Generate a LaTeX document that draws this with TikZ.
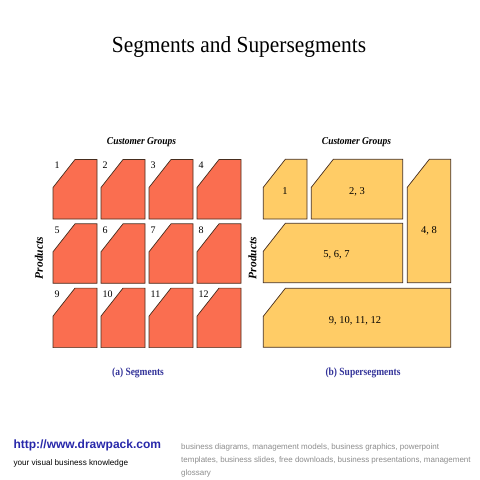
\documentclass[tikz,border=0pt]{standalone}
\usepackage{fontspec}
\setmainfont{Liberation Serif}
\newfontfamily\arialf{Liberation Sans}
\definecolor{segfill}{RGB}{250,110,80}
\definecolor{supfill}{RGB}{255,204,102}
\definecolor{edgecol}{RGB}{70,45,30}
\definecolor{capblue}{RGB}{51,51,153}
\definecolor{urlblue}{RGB}{40,40,170}
\definecolor{footgray}{RGB}{140,140,140}
\newcommand\chambox[5]{% fill, x1,y1,x2,y2
  \draw[boxline,fill=#1] (#2+22,#3) -- (#4,#3) -- (#4,#5) -- (#2,#5) -- (#2,#3+28) -- cycle;}
\newcommand\cnd[3]{\scalebox{#1}[1]{\fontsize{#2}{#2}\selectfont #3}}
\begin{document}
\begin{tikzpicture}[x=1pt,y=-1pt,
  boxline/.style={draw=edgecol,line width=0.7pt},
  numlab/.style={anchor=west,inner sep=0pt,font=\fontsize{10}{10}\selectfont},
  inlab/.style={inner sep=0pt,font=\fontsize{10.5}{10.5}\selectfont},
  headlab/.style={inner sep=0pt},
  caplab/.style={inner sep=0pt,text=capblue},
  foot/.style={inner sep=0pt,anchor=west}]
\useasboundingbox (0,0) rectangle (480,480);
\node[headlab] (title) at (239,47) {\cnd{0.93}{23}{Segments and Supersegments}};
% left panel
\node[headlab] (cgA) at (141.5,142) {\cnd{0.9}{10.5}{\bfseries\itshape Customer Groups}};
\node[headlab,rotate=90] (prA) at (39,258) {\cnd{1}{11.5}{\bfseries\itshape Products}};
\node[caplab] (capA) at (138,373) {\cnd{0.86}{11}{\bfseries (a) Segments}};
\foreach \r/\yy in {0/159.5,1/223.8,2/288.1}{
  \foreach \c/\xx in {0/53,1/101,2/149,3/197}{
    \pgfmathtruncatemacro\n{\r*4+\c+1}
    \chambox{segfill}{\xx}{\yy}{\xx+44}{\yy+59.5}
    \node[numlab] (n\n) at (\xx+1.5,\yy+6) {\n};
  }
}
% right panel
\node[headlab] (cgB) at (356.5,142) {\cnd{0.9}{10.5}{\bfseries\itshape Customer Groups}};
\node[headlab,rotate=90] (prB) at (252.5,258) {\cnd{1}{11.5}{\bfseries\itshape Products}};
\node[caplab] (capB) at (363,373) {\cnd{0.86}{11}{\bfseries (b) Supersegments}};
\chambox{supfill}{263.3}{159.3}{307}{219}
\chambox{supfill}{311.3}{159.3}{402.7}{219}
\chambox{supfill}{407.3}{159.3}{450.7}{282.7}
\chambox{supfill}{263.3}{223.3}{402.7}{282.7}
\chambox{supfill}{263.3}{288.3}{450.7}{347.3}
\node[inlab] (s1) at (285,191.5) {1};
\node[inlab] (s23) at (357,191.5) {2, 3};
\node[inlab] (s48) at (429,230.5) {4, 8};
\node[inlab] (s567) at (336.5,254.5) {5, 6, 7};
\node[inlab] (s912) at (355,320.5) {9, 10, 11, 12};
% footer
\node[foot,text=urlblue] (url) at (13.3,445.5) {\arialf\bfseries\fontsize{12}{12}\selectfont http://www.drawpack.com};
\node[foot] (tag) at (13.3,463) {\arialf\fontsize{8.15}{8.15}\selectfont your visual business knowledge};
\node[foot,text=footgray,anchor=north west,align=left,font=\arialf\fontsize{8}{13}\selectfont] (desc) at (181,443.5) {business diagrams, management models, business graphics, powerpoint\\templates, business slides, free downloads, business presentations, management\\glossary};
\end{tikzpicture}
\end{document}
